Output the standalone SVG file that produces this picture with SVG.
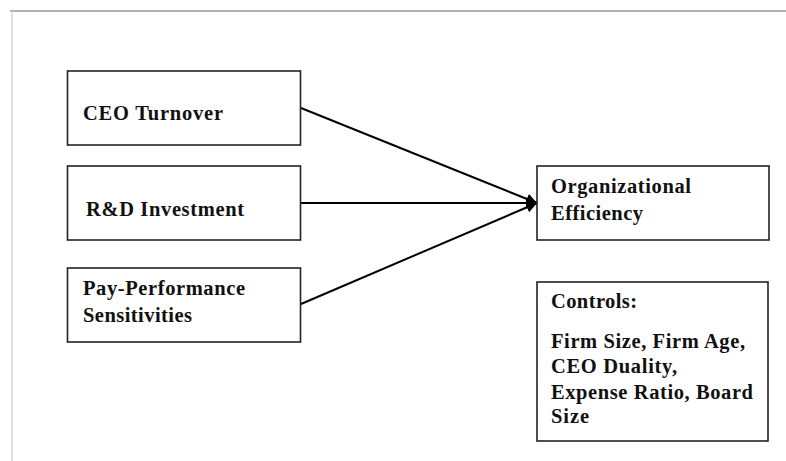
<svg xmlns="http://www.w3.org/2000/svg" width="786" height="461" viewBox="0 0 786 461">
<defs>
<style>
.box{fill:#fff;stroke:#222;stroke-width:1.6}
.t{font-family:"Liberation Serif","Times New Roman",serif;font-weight:bold;font-size:20.5px;fill:#111}
.c{stroke:#000;stroke-width:2;fill:none}
</style>
<marker id="ah" viewBox="0 0 10 10" refX="10" refY="5" markerWidth="5.5" markerHeight="5.5" orient="auto" markerUnits="strokeWidth">
<path d="M0,0 L10,5 L0,10 z" fill="#000"/>
</marker>
</defs>
<rect width="786" height="461" fill="#fff"/>
<line x1="10" y1="11" x2="786" y2="11" stroke="#999" stroke-width="1.5"/>
<line x1="12" y1="11" x2="12" y2="461" stroke="#ccc" stroke-width="1.2"/>
<g id="connectors">
<line class="c" x1="301" y1="108" x2="537" y2="203" marker-end="url(#ah)"/>
<line class="c" x1="301" y1="203" x2="537" y2="203" marker-end="url(#ah)"/>
<line class="c" x1="301" y1="304" x2="537" y2="203" marker-end="url(#ah)"/>
</g>
<g id="ceo">
<rect class="box" x="67.5" y="71" width="233" height="74"/>
<text class="t" x="83" y="120" textLength="140" lengthAdjust="spacing">CEO Turnover</text>
</g>
<g id="rd">
<rect class="box" x="67.5" y="166" width="233" height="74"/>
<text class="t" x="86" y="216" textLength="158" lengthAdjust="spacing">R&amp;D Investment</text>
</g>
<g id="pps">
<rect class="box" x="67.5" y="268" width="233" height="74"/>
<text class="t" x="83" y="295" textLength="162" lengthAdjust="spacing">Pay-Performance</text>
<text class="t" x="83" y="322" textLength="109" lengthAdjust="spacing">Sensitivities</text>
</g>
<g id="eff">
<rect class="box" x="537" y="166" width="232" height="74"/>
<text class="t" x="551" y="193" textLength="140" lengthAdjust="spacing">Organizational</text>
<text class="t" x="551" y="220" textLength="92" lengthAdjust="spacing">Efficiency</text>
</g>
<g id="controls">
<rect class="box" x="537" y="282" width="231" height="159"/>
<text class="t" x="551" y="308" textLength="86" lengthAdjust="spacing">Controls:</text>
<text class="t" x="551" y="348" textLength="194" lengthAdjust="spacing">Firm Size, Firm Age,</text>
<text class="t" x="551" y="373" textLength="126" lengthAdjust="spacing">CEO Duality,</text>
<text class="t" x="551" y="399" textLength="202" lengthAdjust="spacing">Expense Ratio, Board</text>
<text class="t" x="551" y="423" textLength="38" lengthAdjust="spacing">Size</text>
</g>
</svg>
